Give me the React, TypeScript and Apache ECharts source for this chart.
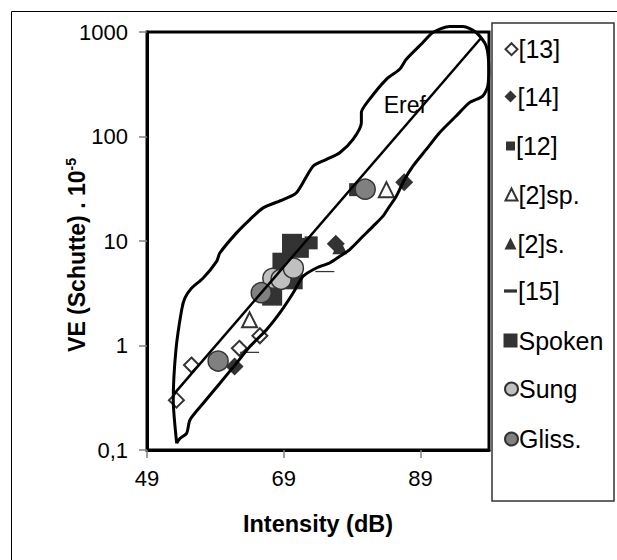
import React, { useEffect, useRef } from "react";
import * as echarts from "echarts";

// ---- data ----
const seriesNames = ["[13]", "[14]", "[12]", "[2]sp.", "[2]s.", "[15]", "Spoken", "Sung", "Gliss."];

const s13 = [[53.3, 0.30], [55.5, 0.65], [62.5, 0.94], [65.5, 1.24]];
const s14 = [[61.8, 0.63], [76.6, 9.4], [86.6, 36.5]];
const s12 = [[73.0, 9.6], [79.5, 31]];
const s2sp = [[64.0, 1.76], [84.0, 31]];
const s2s = [[77.2, 8.8]];
const s15 = [[64.0, 0.86], [75.0, 5.1]];
const spoken = [[67.3, 3.0], [68.8, 6.2], [70.3, 4.3], [70.2, 9.4], [71.2, 8.6]];
const sung = [[67.4, 4.4], [68.6, 4.3], [70.4, 5.5]];
const gliss = [[59.4, 0.71], [65.7, 3.2], [80.9, 31.3]];

const erefLine = [[52.8, 0.335], [97.9, 885]];
const erefLabelAt = [86.7, 199];

const envelope = [
  [53.34, 0.116], [52.84, 0.302], [53.23, 0.91], [54.07, 2.2], [54.55, 2.85], [55.53, 3.55],
  [57.22, 4.43], [59.18, 6.39], [59.66, 7.69], [62.09, 11.96], [64.04, 16.04], [65.98, 20.76],
  [68.9, 24.9], [70.85, 28.9], [73.28, 52.0], [75.23, 60.3], [77.18, 69.9], [79.12, 93.8],
  [80.34, 135.5], [80.34, 169.0], [81.55, 227.4], [83.99, 352.5], [85.93, 439.5], [86.91, 548.5],
  [89.34, 793], [90.8, 989], [93.24, 1130], [95.18, 1130], [97.13, 989], [98.59, 736],
  [98.97, 440], [98.82, 304], [98.09, 244], [96.15, 211], [94.2, 157], [91.77, 108.7],
  [89.83, 75.2], [87.88, 52.0], [86.66, 38.8], [85.45, 26.8], [84.47, 21.5], [83.5, 17.3],
  [82.04, 13.8], [80.58, 11.1], [78.64, 8.28], [77.18, 7.13], [75.72, 6.17], [73.77, 5.52],
  [71.82, 4.59], [70.36, 3.18], [68.42, 2.05], [66.47, 1.415], [64.04, 0.978], [62.09, 0.678],
  [59.66, 0.436], [57.22, 0.28], [55.28, 0.194], [54.8, 0.1445], [53.82, 0.129], [53.34, 0.116],
];

const xTicks = [49, 69, 89];
const yTicks = [0.1, 1, 10, 100, 1000];

const FONT = "'Liberation Sans', Arial, sans-serif";
const DARK = "#333333";

export default function App() {
  const ref = useRef<HTMLDivElement>(null);

  useEffect(() => {
    document.body.style.margin = "0";
    const chart = echarts.init(ref.current!, null, { renderer: "svg" });

    const dashPath = "path://M0,0H20V5H0Z";

    const scatterDefs: any[] = [
      { data: s13, symbol: "diamond", size: 15, lsize: 12, style: { color: "#ffffff", borderColor: DARK, borderWidth: 2 } },
      { data: s14, symbol: "diamond", size: 18, lsize: 12, style: { color: DARK } },
      { data: s12, symbol: "rect", size: 13, lsize: 9, style: { color: DARK } },
      { data: s2sp, symbol: "triangle", size: 15, lsize: 12, style: { color: "#ffffff", borderColor: DARK, borderWidth: 2 } },
      { data: s2s, symbol: "triangle", size: 15, lsize: 12, style: { color: DARK } },
      { data: s15, symbol: dashPath, size: [19, 5], lsize: 13, keep: true, style: { color: DARK } },
      { data: spoken, symbol: "rect", size: 20, lsize: 14, style: { color: DARK } },
      { data: sung, symbol: "circle", size: 20, lsize: 13, style: { color: "#c0c0c0", borderColor: DARK, borderWidth: 1.5 } },
      { data: gliss, symbol: "circle", size: 20, lsize: 13, style: { color: "#808080", borderColor: DARK, borderWidth: 1.5 } },
    ];

    const legendCenters = [42.7, 90, 138, 188, 237, 285, 335, 383, 433];

    const series: any[] = scatterDefs.map((d, i) => ({
      name: seriesNames[i],
      type: "scatter",
      data: d.data,
      symbol: d.symbol,
      symbolSize: d.size,
      symbolKeepAspect: !!d.keep,
      itemStyle: { ...d.style, opacity: 1 },
      z: 2,
    }));

    series.push({
      name: "envelope",
      type: "line",
      data: envelope,
      showSymbol: false,
      symbol: "none",
      clip: false,
      smooth: 0.25,
      lineStyle: { color: "#000", width: 3 },
      z: 4,
    });
    series.push({
      name: "Eref",
      type: "line",
      data: erefLine,
      showSymbol: false,
      symbol: "none",
      lineStyle: { color: "#000", width: 2.5 },
      z: 4,
      markPoint: {
        symbol: "circle",
        symbolSize: 1,
        itemStyle: { color: "rgba(0,0,0,0)" },
        label: { show: true, position: "inside", formatter: "Eref", fontSize: 23, color: "#000", fontFamily: FONT },
        data: [{ coord: erefLabelAt }],
      },
    });

    const legends = scatterDefs.map((d, i) => ({
      data: [seriesNames[i]],
      orient: "vertical",
      left: 510.5 - d.lsize / 2,
      top: legendCenters[i] - d.lsize / 2,
      itemWidth: d.lsize,
      itemHeight: d.lsize,
      itemGap: 0,
      padding: 0,
      selectedMode: false,
      itemStyle: { opacity: 1 },
      textStyle: { fontSize: 25, color: "#000", fontFamily: FONT, padding: [0, 0, 0, -4] },
    }));

    chart.setOption({
      animation: false,
      backgroundColor: "#ffffff",
      textStyle: { fontFamily: FONT },
      grid: {
        left: 147,
        right: 128,
        top: 32,
        bottom: 110,
        show: true,
        borderColor: "#000",
        borderWidth: 3,
        backgroundColor: "transparent",
      },
      xAxis: {
        type: "value",
        min: 49,
        max: 99,
        interval: 20,
        name: "Intensity (dB)",
        nameLocation: "middle",
        nameGap: 62,
        nameTextStyle: { fontSize: 23.5, fontWeight: "bold", color: "#000", fontFamily: FONT },
        axisLine: { show: true, lineStyle: { color: "#000", width: 3 } },
        axisTick: { show: true, length: 8, customValues: xTicks, lineStyle: { color: "#808080", width: 1.5 } },
        axisLabel: { customValues: xTicks, fontSize: 22, color: "#000", margin: 17, fontFamily: FONT },
        splitLine: { show: false },
      },
      yAxis: {
        type: "log",
        logBase: 10,
        min: 0.1,
        max: 1000,
        name: "{a|VE (Schutte) . 10}{b|-5}",
        nameLocation: "middle",
        nameGap: 57,
        nameMoveOverlap: false,
        nameTextStyle: {
          padding: [0, 28, 0, 0],
          rich: {
            a: { fontSize: 23, fontWeight: "bold", color: "#000", fontFamily: FONT, lineHeight: 26 },
            b: { fontSize: 14, fontWeight: "bold", color: "#000", fontFamily: FONT, verticalAlign: "top", lineHeight: 26, padding: [0, 0, 10, 0] },
          },
        },
        axisLine: { show: true, lineStyle: { color: "#000", width: 3 } },
        axisTick: { show: true, length: 8, lineStyle: { color: "#808080", width: 1.5 } },
        minorTick: { show: false },
        axisLabel: {
          fontSize: 22,
          color: "#000",
          margin: 19,
          fontFamily: FONT,
          formatter: (v: number) => {
            const t = yTicks.find((y) => Math.abs(Math.log10(y) - Math.log10(v)) < 1e-6);
            if (t === undefined) return "";
            return t < 1 ? "0,1" : String(t);
          },
        },
        splitLine: { show: false },
      },
      legend: legends,
      graphic: [
        { type: "rect", shape: { x: 11.5, y: 11.5, width: 700, height: 700 }, style: { fill: "none", stroke: "#000", lineWidth: 1 }, z: 0, silent: true },
        { type: "rect", shape: { x: 492, y: 23, width: 122, height: 478 }, style: { fill: "none", stroke: "#333", lineWidth: 1.5 }, z: 0, silent: true },
      ],
      series,
    });

    return () => chart.dispose();
  }, []);

  return <div ref={ref} style={{ width: 617, height: 560 }} />;
}
